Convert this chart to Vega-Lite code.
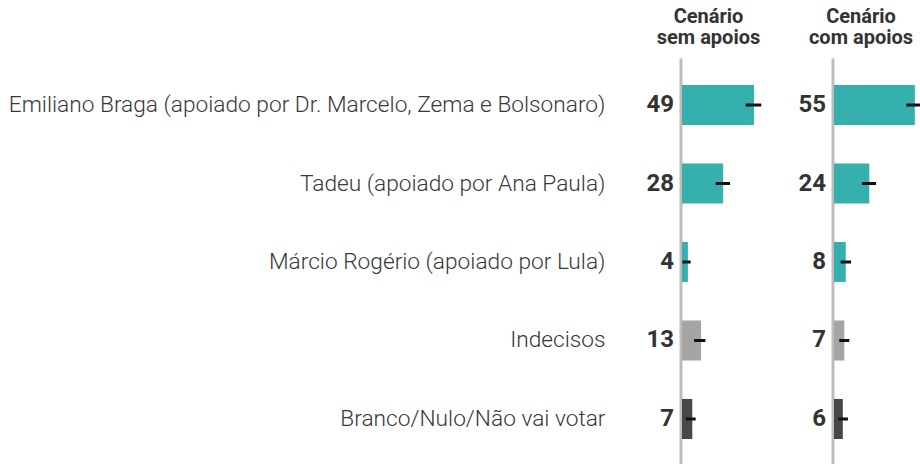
{
  "$schema": "https://vega.github.io/schema/vega-lite/v6.json",
  "autosize": "none",
  "padding": {"left": 682, "top": 58, "right": 238, "bottom": 406},
  "bounds": "flush",
  "spacing": 32,
  "config": {
    "font": "Roboto",
    "view": {"stroke": null},
    "concat": {"spacing": 32}
  },
  "data": {
    "values": [
      {"cenario": "sem", "cand": "Emiliano Braga (apoiado por Dr. Marcelo, Zema e Bolsonaro)", "grupo": "cand", "valor": 49, "lo": 43.3, "hi": 53.9},
      {"cenario": "sem", "cand": "Tadeu (apoiado por Ana Paula)", "grupo": "cand", "valor": 28, "lo": 22.9, "hi": 32.7},
      {"cenario": "sem", "cand": "Márcio Rogério (apoiado por Lula)", "grupo": "cand", "valor": 4, "lo": 0.3, "hi": 5.9},
      {"cenario": "sem", "cand": "Indecisos", "grupo": "indec", "valor": 13, "lo": 8.2, "hi": 15.9},
      {"cenario": "sem", "cand": "Branco/Nulo/Não vai votar", "grupo": "branco", "valor": 7, "lo": 2.7, "hi": 9.3},
      {"cenario": "com", "cand": "Emiliano Braga (apoiado por Dr. Marcelo, Zema e Bolsonaro)", "grupo": "cand", "valor": 55, "lo": 49.2, "hi": 61},
      {"cenario": "com", "cand": "Tadeu (apoiado por Ana Paula)", "grupo": "cand", "valor": 24, "lo": 19, "hi": 28.6},
      {"cenario": "com", "cand": "Márcio Rogério (apoiado por Lula)", "grupo": "cand", "valor": 8, "lo": 4.5, "hi": 11.6},
      {"cenario": "com", "cand": "Indecisos", "grupo": "indec", "valor": 7, "lo": 3.6, "hi": 10.4},
      {"cenario": "com", "cand": "Branco/Nulo/Não vai votar", "grupo": "branco", "valor": 6, "lo": 2.9, "hi": 9.5}
    ]
  },
  "hconcat": [
    {
      "width": 120,
      "height": 408,
      "title": {"text": ["Cenário", "sem apoios"], "anchor": "start", "frame": "group", "align": "center", "dx": 26.5, "fontSize": 20, "fontWeight": "bold", "lineHeight": 21, "color": "#333333", "offset": 10},
      "transform": [{"filter": "datum.cenario == 'sem'"}],
      "encoding": {
        "y": {
          "field": "cand", "type": "nominal", "sort": null,
          "scale": {"paddingInner": 0.49, "paddingOuter": 0.344},
          "axis": {"title": null, "ticks": false, "tickSize": 0, "domainColor": "#bdbdbd", "domainWidth": 3, "offset": 1.5, "labelPadding": 75.5, "labelFontSize": 22.7, "labelFontWeight": 300, "labelColor": "#383838", "labelLimit": 0, "labelFont": "Roboto Light, Roboto"}
        }
      },
      "layer": [
        {
          "mark": {"type": "bar"},
          "encoding": {
            "x": {"field": "valor", "type": "quantitative", "scale": {"domain": [0, 81.6], "nice": false, "zero": true}, "axis": null},
            "color": {"field": "grupo", "type": "nominal", "scale": {"domain": ["cand", "indec", "branco"], "range": ["#35b0af", "#a5a5a5", "#474747"]}, "legend": null}
          }
        },
        {
          "mark": {"type": "rule", "strokeWidth": 3, "color": "#111111"},
          "encoding": {
            "x": {"field": "lo", "type": "quantitative"},
            "x2": {"field": "hi"}
          }
        },
        {
          "mark": {"type": "text", "align": "right", "baseline": "middle", "dx": -8, "fontSize": 24, "fontWeight": "bold", "color": "#333333", "font": "Roboto"},
          "encoding": {
            "x": {"datum": 0},
            "text": {"field": "valor", "type": "quantitative"}
          }
        }
      ]
    },
    {
      "width": 86,
      "height": 408,
      "title": {"text": ["Cenário", "com apoios"], "anchor": "start", "frame": "group", "align": "center", "dx": 27, "fontSize": 20, "fontWeight": "bold", "lineHeight": 21, "color": "#333333", "offset": 10},
      "transform": [{"filter": "datum.cenario == 'com'"}],
      "encoding": {
        "y": {
          "field": "cand", "type": "nominal", "sort": null,
          "scale": {"paddingInner": 0.49, "paddingOuter": 0.344},
          "axis": {"title": null, "ticks": false, "tickSize": 0, "labels": false, "domainColor": "#bdbdbd", "domainWidth": 3, "offset": 1.5}
        }
      },
      "layer": [
        {
          "mark": {"type": "bar"},
          "encoding": {
            "x": {"field": "valor", "type": "quantitative", "scale": {"domain": [0, 58.5], "nice": false, "zero": true}, "axis": null},
            "color": {"field": "grupo", "type": "nominal", "scale": {"domain": ["cand", "indec", "branco"], "range": ["#35b0af", "#a5a5a5", "#474747"]}, "legend": null}
          }
        },
        {
          "mark": {"type": "rule", "strokeWidth": 3, "color": "#111111"},
          "encoding": {
            "x": {"field": "lo", "type": "quantitative"},
            "x2": {"field": "hi"}
          }
        },
        {
          "mark": {"type": "text", "align": "right", "baseline": "middle", "dx": -8, "fontSize": 24, "fontWeight": "bold", "color": "#333333", "font": "Roboto"},
          "encoding": {
            "x": {"datum": 0},
            "text": {"field": "valor", "type": "quantitative"}
          }
        }
      ]
    }
  ]
}
